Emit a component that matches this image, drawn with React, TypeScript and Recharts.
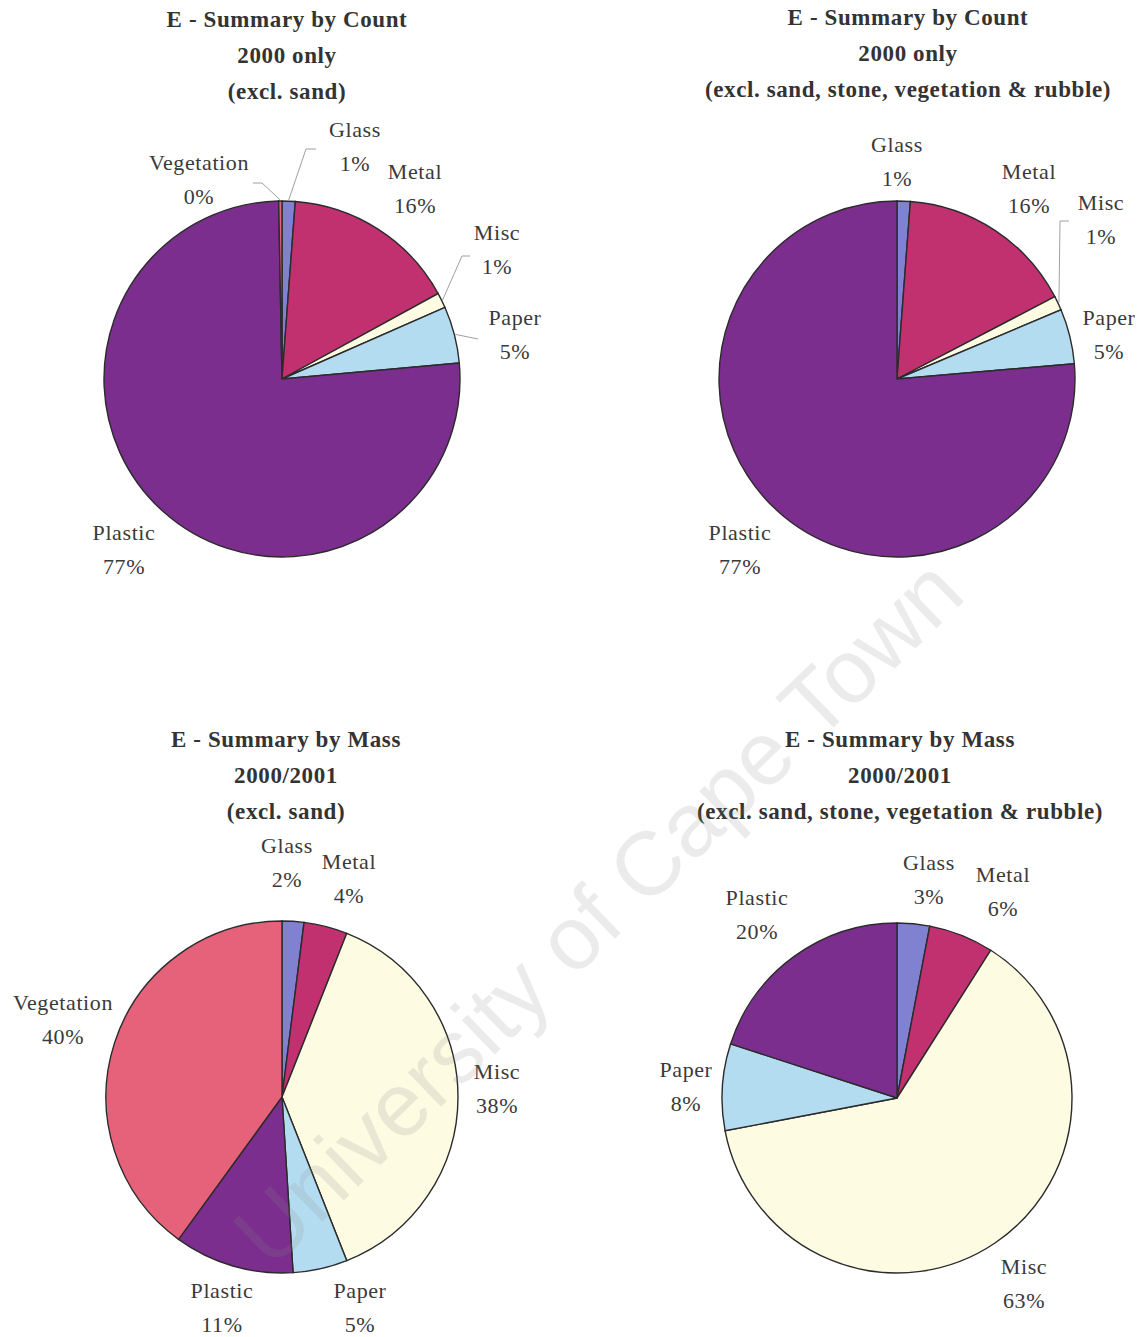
import React from 'react';
import { PieChart, Pie, Cell } from 'recharts';

// categories, clockwise from 12 o'clock
const countNames = ['Glass', 'Metal', 'Misc', 'Paper', 'Plastic', 'Vegetation'];
const countValues = [1.2, 16.0, 1.4, 5.2, 76.9, 0.3];

const countReducedNames = ['Glass', 'Metal', 'Misc', 'Paper', 'Plastic'];
const countReducedValues = [1.2, 16.2, 1.3, 5.0, 76.6];

const massNames = ['Glass', 'Metal', 'Misc', 'Paper', 'Plastic', 'Vegetation'];
const massValues = [2, 4, 38, 5, 11, 40];

const massReducedNames = ['Glass', 'Metal', 'Misc', 'Paper', 'Plastic'];
const massReducedValues = [3, 6, 63, 8, 20];

const titleCount = ['E - Summary by Count', '2000 only'];
const titleMass = ['E - Summary by Mass', '2000/2001'];
const subSand = '(excl. sand)';
const subAll = '(excl. sand, stone, vegetation & rubble)';

const COLORS: Record<string, string> = {
  Glass: '#8181d2',
  Metal: '#c1316f',
  Misc: '#fdfbe2',
  Paper: '#b4dcf1',
  Plastic: '#7b2e8e',
  Vegetation: '#e6627b',
};

type LabelPos = { dx: number; dy: number; lx?: number; ly?: number; tick?: number };

// label block centres relative to pie centre; optional leader end point
const pos1: Record<string, LabelPos> = {
  Glass: { dx: 73, dy: -232, lx: 24, ly: -230, tick: 10 },
  Metal: { dx: 133, dy: -190 },
  Misc: { dx: 215, dy: -129, lx: 180, ly: -123, tick: 8 },
  Paper: { dx: 233, dy: -44, lx: 196, ly: -40, tick: 0 },
  Plastic: { dx: -158, dy: 171 },
  Vegetation: { dx: -83, dy: -199, lx: -20, ly: -196, tick: -9 },
};
const pos2: Record<string, LabelPos> = {
  Glass: { dx: 0, dy: -217 },
  Metal: { dx: 132, dy: -190 },
  Misc: { dx: 204, dy: -159, lx: 163, ly: -158, tick: 9 },
  Paper: { dx: 212, dy: -44 },
  Plastic: { dx: -157, dy: 171 },
};
const pos3: Record<string, LabelPos> = {
  Glass: { dx: 5, dy: -234 },
  Metal: { dx: 67, dy: -218 },
  Misc: { dx: 215, dy: -8 },
  Paper: { dx: 78, dy: 211 },
  Plastic: { dx: -60, dy: 211 },
  Vegetation: { dx: -219, dy: -77 },
};
const pos4: Record<string, LabelPos> = {
  Glass: { dx: 32, dy: -218 },
  Metal: { dx: 106, dy: -206 },
  Misc: { dx: 127, dy: 186 },
  Paper: { dx: -211, dy: -11 },
  Plastic: { dx: -140, dy: -183 },
};

const RAD = Math.PI / 180;
const FONT = '"Liberation Serif", "Times New Roman", serif';

const makeLabel = (positions: Record<string, LabelPos>) => (props: any) => {
  const { cx, cy, midAngle, outerRadius, name, value } = props;
  const p = positions[name];
  if (!p) return null;
  const x = cx + p.dx;
  const y = cy + p.dy;
  let leader = null;
  if (p.lx !== undefined && p.ly !== undefined) {
    const sx = cx + (outerRadius + 1) * Math.cos(-midAngle * RAD);
    const sy = cy + (outerRadius + 1) * Math.sin(-midAngle * RAD);
    const ex = cx + p.lx;
    const ey = cy + p.ly;
    leader = (
      <polyline
        points={`${sx},${sy} ${ex},${ey} ${ex + (p.tick || 0)},${ey}`}
        fill="none"
        stroke="#a0a0a0"
        strokeWidth={1}
      />
    );
  }
  return (
    <g>
      {leader}
      <text
        x={x}
        y={y}
        textAnchor="middle"
        fontFamily={FONT}
        fontSize={22}
        letterSpacing={0.6}
        fill="#3a3a3a"
      >
        <tspan x={x} dy={-10}>{name}</tspan>
        <tspan x={x} dy={34}>{Math.round(value)}%</tspan>
      </text>
    </g>
  );
};

type PanelProps = {
  left: number;
  top: number;
  names: string[];
  values: number[];
  title: string[];
  titleX: number;
  titleY: number;
  cx: number;
  cy: number;
  r: number;
  positions: Record<string, LabelPos>;
};

const Panel = ({ left, top, names, values, title, titleX, titleY, cx, cy, r, positions }: PanelProps) => {
  const data = names.map((n, i) => ({ name: n, value: values[i] }));
  return (
    <div style={{ position: 'absolute', left, top, width: 573, height: 668 }}>
      <PieChart
        width={573}
        height={668}
        margin={{ top: 0, right: 0, bottom: 0, left: 0 }}
        style={{ position: 'absolute', left: 0, top: 0 }}
      >
        <Pie
          data={data}
          dataKey="value"
          nameKey="name"
          cx={cx}
          cy={cy}
          outerRadius={r}
          startAngle={90}
          endAngle={-270}
          stroke="#2b2b2b"
          strokeWidth={1.4}
          label={makeLabel(positions)}
          labelLine={false}
          isAnimationActive={false}
        >
          {data.map((d) => (
            <Cell key={d.name} fill={COLORS[d.name]} />
          ))}
        </Pie>
      </PieChart>
      <div
        style={{
          position: 'absolute',
          left: titleX - 300,
          top: titleY,
          width: 600,
          textAlign: 'center',
          fontFamily: FONT,
          fontWeight: 'bold',
          fontSize: 23,
          lineHeight: '36px',
          letterSpacing: 0.6,
          color: '#333',
          whiteSpace: 'nowrap',
        }}
      >
        {title.map((t) => (
          <div key={t}>{t}</div>
        ))}
      </div>
    </div>
  );
};

export default function App() {
  return (
    <div style={{ position: 'absolute', left: 0, top: 0, width: 1147, height: 1337, background: '#fff', overflow: 'hidden' }}>
      <Panel left={0} top={0} names={countNames} values={countValues} title={[...titleCount, subSand]}
        titleX={287} titleY={2} cx={282} cy={379} r={178} positions={pos1} />
      <Panel left={573} top={0} names={countReducedNames} values={countReducedValues} title={[...titleCount, subAll]}
        titleX={335} titleY={0} cx={324} cy={379} r={178} positions={pos2} />
      <Panel left={0} top={668} names={massNames} values={massValues} title={[...titleMass, subSand]}
        titleX={286} titleY={54} cx={282} cy={429} r={176} positions={pos3} />
      <Panel left={573} top={668} names={massReducedNames} values={massReducedValues} title={[...titleMass, subAll]}
        titleX={327} titleY={54} cx={324} cy={430} r={175} positions={pos4} />
      <svg width={1147} height={1337} style={{ position: 'absolute', left: 0, top: 0, pointerEvents: 'none' }}>
        <text
          transform="translate(598,912) rotate(-44)"
          textAnchor="middle"
          dominantBaseline="central"
          fontFamily='"Liberation Sans", Arial, sans-serif'
          fontSize={90}
          fill="#8a8a8a"
          fillOpacity={0.17}
        >
          University of Cape Town
        </text>
      </svg>
    </div>
  );
}
